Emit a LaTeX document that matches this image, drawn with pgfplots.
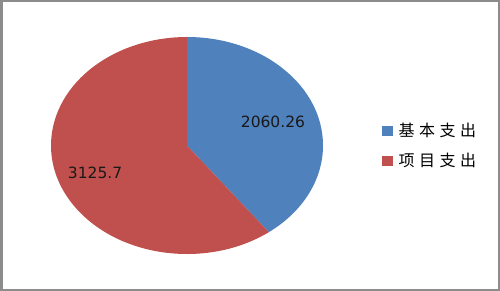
\documentclass[border=0pt]{standalone}
\usepackage{pgfplots}
\pgfplotsset{compat=1.18}
\usepackage{fontspec}
\setmainfont{DejaVu Sans}
\newfontfamily\cjk[LetterSpace=28]{Noto Sans CJK SC}
\definecolor{blueC}{HTML}{4F81BD}
\definecolor{redC}{HTML}{C0504D}
\definecolor{frameC}{HTML}{8C8C8C}
\begin{document}
\begin{tikzpicture}
\useasboundingbox (0,0) rectangle (500bp,291bp);
\fill[white] (0,0) rectangle (500bp,291bp);
\pgfmathsetmacro{\valA}{2060.26}
\pgfmathsetmacro{\valB}{3125.7}
\pgfmathsetmacro{\fracA}{\valA/(\valA+\valB)}
\pgfmathsetmacro{\angA}{360*\fracA}
\pgfmathsetmacro{\endA}{90-\angA}
\begin{axis}[
  at={(187bp,145.5bp)}, anchor=center,
  scale only axis, width=272bp, height=217bp,
  xmin=-1, xmax=1, ymin=-1, ymax=1,
  hide axis, clip=false,
  legend style={draw=none, fill=none, at={(axis cs:1.434,0)}, anchor=west,
    inner sep=0pt, row sep=14.5bp, font=\cjk\fontsize{16bp}{16bp}\selectfont,
    nodes={inner sep=0pt, anchor=west}},
  legend cell align=left,
]
\fill[blueC] (axis cs:0,0) -- (axis cs:0,1) arc[start angle=90, end angle=\endA, x radius=136bp, y radius=108.5bp] -- cycle;
\fill[redC] (axis cs:0,0) -- ++(\endA:136bp and 108.5bp) arc[start angle=\endA, end angle=-270, x radius=136bp, y radius=108.5bp] -- cycle;
\node[font=\fontsize{15.5bp}{15.5bp}\selectfont, text=black!90] at (axis cs:0.632,0.217) {2060.26};
\node[font=\fontsize{15.5bp}{15.5bp}\selectfont, text=black!90] at (axis cs:-0.676,-0.253) {3125.7};
\addlegendimage{legend image code/.code={\fill[blueC] (0bp,-4.5bp) rectangle (10bp,4.5bp);}}
\addlegendentry{\hspace{6bp}基本支出}
\addlegendimage{legend image code/.code={\fill[redC] (0bp,-4.5bp) rectangle (10bp,4.5bp);}}
\addlegendentry{\hspace{6bp}项目支出}
\end{axis}
\draw[frameC, line width=2bp] (1bp,1bp) rectangle (499bp,290bp);
\fill[frameC] (0,0) rectangle (3bp,291bp);
\end{tikzpicture}
\end{document}
